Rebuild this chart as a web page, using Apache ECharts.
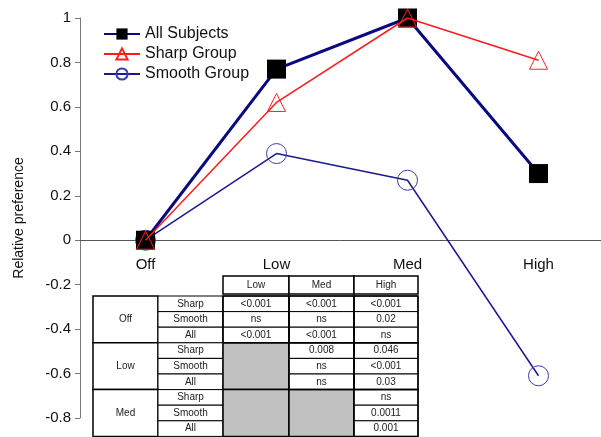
<!DOCTYPE html>
<html>
<head>
<meta charset="utf-8">
<script src="https://cdn.jsdelivr.net/npm/echarts@6/dist/echarts.min.js"></script>
<style>
  html, body { margin: 0; padding: 0; background: #fff; }
  #chart { width: 601px; height: 437px; }
</style>
</head>
<body>
<div id="chart"></div>
<script>
// chart data
const categories = ['Off', 'Low', 'Med', 'High'];
const allSubjects = [0, 0.77, 1.0, 0.30];
const sharpGroup = [0, 0.62, 1.0, 0.81];
const smoothGroup = [0, 0.39, 0.27, -0.61];

// p-value table
const tableCols = ['Low', 'Med', 'High'];
const tableGroups = ['Off', 'Low', 'Med'];
const tableRows = ['Sharp', 'Smooth', 'All'];
const pValues = [
  [['<0.001', '<0.001', '<0.001'], ['ns', 'ns', '0.02'], ['<0.001', '<0.001', 'ns']],
  [[null, '0.008', '0.046'], [null, 'ns', '<0.001'], [null, 'ns', '0.03']],
  [[null, null, 'ns'], [null, null, '0.0011'], [null, null, '0.001']]
];

// table layout
const colX = [93, 158, 223, 289, 354, 418];
const headTop = 276, headH = 18;
const bodyTop = 296, rowH = 15.6;
const font = '10px "Liberation Sans", Arial, sans-serif';

function cellText(cx, cy, t) {
  return { type: 'text', z: 11, style: { x: cx, y: cy, text: t, font: font, fill: '#222', align: 'center', verticalAlign: 'middle' } };
}
function box(x, y, w, h, fill, lw) {
  return { type: 'rect', z: 10, shape: { x: x, y: y, width: w, height: h }, style: { fill: fill, stroke: '#000', lineWidth: lw } };
}

function buildTable() {
  const els = [];
  // header
  tableCols.forEach((c, i) => {
    const x0 = colX[i + 2], x1 = colX[i + 3];
    els.push(box(x0, headTop, x1 - x0, headH, '#fff', 1.5));
    els.push(cellText((x0 + x1) / 2, headTop + headH / 2, c));
  });
  // body
  tableGroups.forEach((g, gi) => {
    const gy = bodyTop + gi * 3 * rowH;
    els.push(box(colX[0], gy, colX[1] - colX[0], 3 * rowH, '#fff', 1.5));
    els.push(cellText((colX[0] + colX[1]) / 2, gy + 1.5 * rowH, g));
    tableRows.forEach((r, ri) => {
      const ry = gy + ri * rowH;
      els.push(box(colX[1], ry, colX[2] - colX[1], rowH, '#fff', 1));
      els.push(cellText((colX[1] + colX[2]) / 2, ry + rowH / 2, r));
    });
    tableCols.forEach((c, ci) => {
      const x0 = colX[ci + 2], x1 = colX[ci + 3];
      const empty = pValues[gi].every(row => row[ci] == null);
      if (empty) {
        els.push(box(x0, gy, x1 - x0, 3 * rowH, '#c0c0c0', 1.5));
      } else {
        tableRows.forEach((r, ri) => {
          const ry = gy + ri * rowH;
          els.push(box(x0, ry, x1 - x0, rowH, '#fff', 1));
          els.push(cellText((x0 + x1) / 2, ry + rowH / 2, pValues[gi][ri][ci]));
        });
        els.push({ type: 'rect', z: 12, shape: { x: x0, y: gy, width: x1 - x0, height: 3 * rowH }, style: { fill: 'none', stroke: '#000', lineWidth: 1.5 } });
      }
    });
  });
  return els;
}

const yMin = -0.8, yMax = 1;
const gridTop = 18, gridBottom = 19, chartH = 437;
// move the category axis up to the zero line
const plotH = chartH - gridTop - gridBottom;
const zeroOffset = -plotH * (0 - yMin) / (yMax - yMin);

const myChart = echarts.init(document.getElementById('chart'));
myChart.setOption({
  animation: false,
  textStyle: { fontFamily: '"Liberation Sans", Arial, sans-serif' },
  grid: { left: 80, right: -3, top: gridTop, bottom: gridBottom, outerBoundsMode: 'none', containLabel: false },
  legend: {
    orient: 'vertical',
    left: 98,
    top: 21,
    itemWidth: 36,
    itemHeight: 14,
    itemGap: 4,
    textStyle: { fontSize: 16, color: '#111' },
    data: ['All Subjects', 'Sharp Group', 'Smooth Group']
  },
  xAxis: {
    type: 'category',
    data: categories,
    position: 'bottom',
    offset: zeroOffset,
    axisLine: { onZero: false, lineStyle: { color: '#555', width: 1 } },
    axisTick: { show: false },
    axisLabel: { fontSize: 15, color: '#111', margin: 17 }
  },
  yAxis: {
    type: 'value',
    min: yMin,
    max: yMax,
    interval: 0.2,
    name: 'Relative preference',
    nameLocation: 'middle',
    nameGap: 54,
    nameTextStyle: { fontSize: 14, color: '#111' },
    splitLine: { show: false },
    axisLine: { show: true, lineStyle: { color: '#777' } },
    axisTick: { show: true, length: 5, lineStyle: { color: '#777' } },
    axisLabel: { fontSize: 15, color: '#111', margin: 9, formatter: v => String(Math.round(v * 10) / 10) }
  },
  series: [
    {
      name: 'All Subjects',
      type: 'line',
      z: 3,
      data: allSubjects,
      symbol: 'rect',
      symbolSize: 19,
      lineStyle: { color: '#0a0a80', width: 3 },
      itemStyle: { color: '#000', borderColor: '#000', borderWidth: 0 }
    },
    {
      name: 'Sharp Group',
      type: 'line',
      z: 4,
      data: sharpGroup,
      symbol: 'triangle',
      symbolSize: 18,
      lineStyle: { color: '#ff1a1a', width: 1.5 },
      itemStyle: { color: 'rgba(0,0,0,0)', borderColor: '#ff2020', borderWidth: 1 }
    },
    {
      name: 'Smooth Group',
      type: 'line',
      z: 2,
      data: smoothGroup,
      symbol: 'circle',
      symbolSize: 20,
      lineStyle: { color: '#1a1a8c', width: 1.5 },
      itemStyle: { color: 'rgba(0,0,0,0)', borderColor: '#3a3aa8', borderWidth: 1 }
    }
  ],
  graphic: buildTable()
});
</script>
</body>
</html>
